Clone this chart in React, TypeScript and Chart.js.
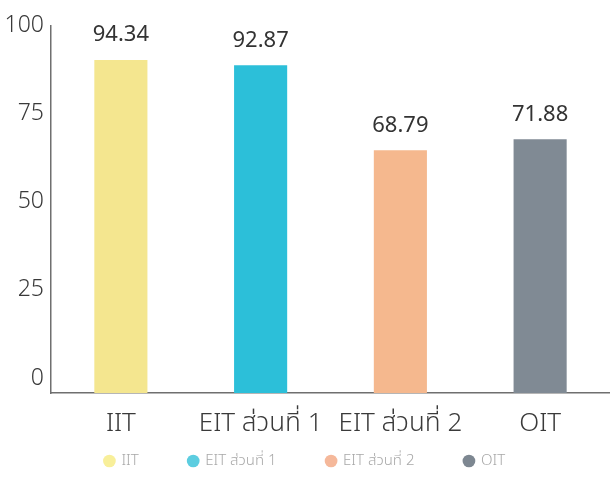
import React, { useEffect, useRef } from "react";
import { Chart, registerables } from "chart.js";

Chart.register(...registerables);

const categories = ["IIT", "EIT ส่วนที่ 1", "EIT ส่วนที่ 2", "OIT"];
const values = [94.34, 92.87, 68.79, 71.88];
const valueLabels = ["94.34", "92.87", "68.79", "71.88"];
const yTicks = [0, 25, 50, 75, 100];
const barColors = ["#f4e68f", "#2cbfd9", "#f5b88e", "#808a94"];
const legendColors = ["#f8ef9a", "#5ccde0", "#f5b89a", "#7d8791"];

const FONT = "'Noto Sans', 'Noto Sans Thai', 'DejaVu Sans', sans-serif";

const LEGEND_PAD = 50;
const LEGEND_FONT = 15;
const X_AXIS_H = 48;
const LEGEND_RESERVED = 58;
const LEGEND_CENTER_Y = 461;

const valueLabelPlugin = {
  id: "valueLabels",
  afterDatasetsDraw(chart: any) {
    const { ctx } = chart;
    const meta = chart.getDatasetMeta(0);
    ctx.save();
    ctx.font = `400 22px ${FONT}`;
    ctx.fillStyle = "#333333";
    ctx.textAlign = "center";
    ctx.textBaseline = "middle";
    meta.data.forEach((bar: any, i: number) => {
      ctx.fillText(valueLabels[i], bar.x, bar.y - 25);
    });
    ctx.restore();
  },
};

const legendPlacementPlugin = {
  id: "legendPlacement",
  beforeLayout(chart: any) {
    const lg = chart.legend;
    if (lg && !lg.__patched) {
      const orig = lg.fit;
      lg.fit = function () {
        orig.call(this);
        this.__fullH = this.height;
        this.height = LEGEND_RESERVED;
      };
      lg.__patched = true;
    }
  },
  afterLayout(chart: any) {
    const lg = chart.legend;
    if (!lg) return;
    const full = lg.__fullH || lg.height;
    lg.top = LEGEND_CENTER_Y - LEGEND_PAD - LEGEND_FONT / 2;
    lg.height = full;
    lg.bottom = lg.top + full;
  },
};

export default function App() {
  const canvasRef = useRef<HTMLCanvasElement | null>(null);

  useEffect(() => {
    if (!canvasRef.current) return;
    const chart = new Chart(canvasRef.current, {
      type: "bar",
      data: {
        labels: categories,
        datasets: [
          {
            data: values,
            backgroundColor: barColors,
            borderWidth: 0,
            barPercentage: 0.76,
            categoryPercentage: 0.5,
          },
        ],
      },
      options: {
        animation: false,
        responsive: false,
        maintainAspectRatio: false,
        layout: { padding: { top: 26, right: 0, bottom: 0, left: 0 } },
        plugins: {
          tooltip: { enabled: false },
          legend: {
            position: "bottom",
            labels: {
              usePointStyle: true,
              pointStyle: "circle",
              boxWidth: 9,
              boxHeight: 9,
              padding: LEGEND_PAD,
              color: "#a8a8a8",
              font: { family: FONT, size: LEGEND_FONT, weight: "300" },
              generateLabels: () =>
                categories.map((c, i) => ({
                  text: c,
                  fillStyle: legendColors[i],
                  strokeStyle: legendColors[i],
                  lineWidth: 0,
                  pointStyle: "circle",
                  hidden: false,
                  index: i,
                  fontColor: "#a8a8a8",
                })),
            },
          },
        },
        scales: {
          x: {
            afterFit: (scale: any) => {
              scale.height = X_AXIS_H;
            },
            grid: { display: false, drawTicks: false },
            border: { display: true, color: "#6f6f6f", width: 1.5 },
            ticks: {
              color: "#3a3a3a",
              padding: 15,
              font: { family: FONT, size: 26, weight: "300" },
            },
          },
          y: {
            min: 0,
            max: 104,
            afterBuildTicks: (scale: any) => {
              scale.ticks = yTicks.map((v) => ({ value: v }));
            },
            afterFit: (scale: any) => {
              scale.width = 51;
            },
            grid: { display: false, drawTicks: false },
            border: { display: true, color: "#6f6f6f", width: 1.5 },
            ticks: {
              color: "#3a3a3a",
              padding: 7,
              labelOffset: -15,
              font: { family: FONT, size: 23, weight: "300" },
            },
          },
        },
      },
      plugins: [valueLabelPlugin, legendPlacementPlugin],
    });
    return () => chart.destroy();
  }, []);

  return (
    <div style={{ position: "fixed", left: 0, top: 0, width: 610, height: 499, background: "#fff" }}>
      <canvas ref={canvasRef} width={610} height={499} style={{ width: 610, height: 499 }} />
    </div>
  );
}
